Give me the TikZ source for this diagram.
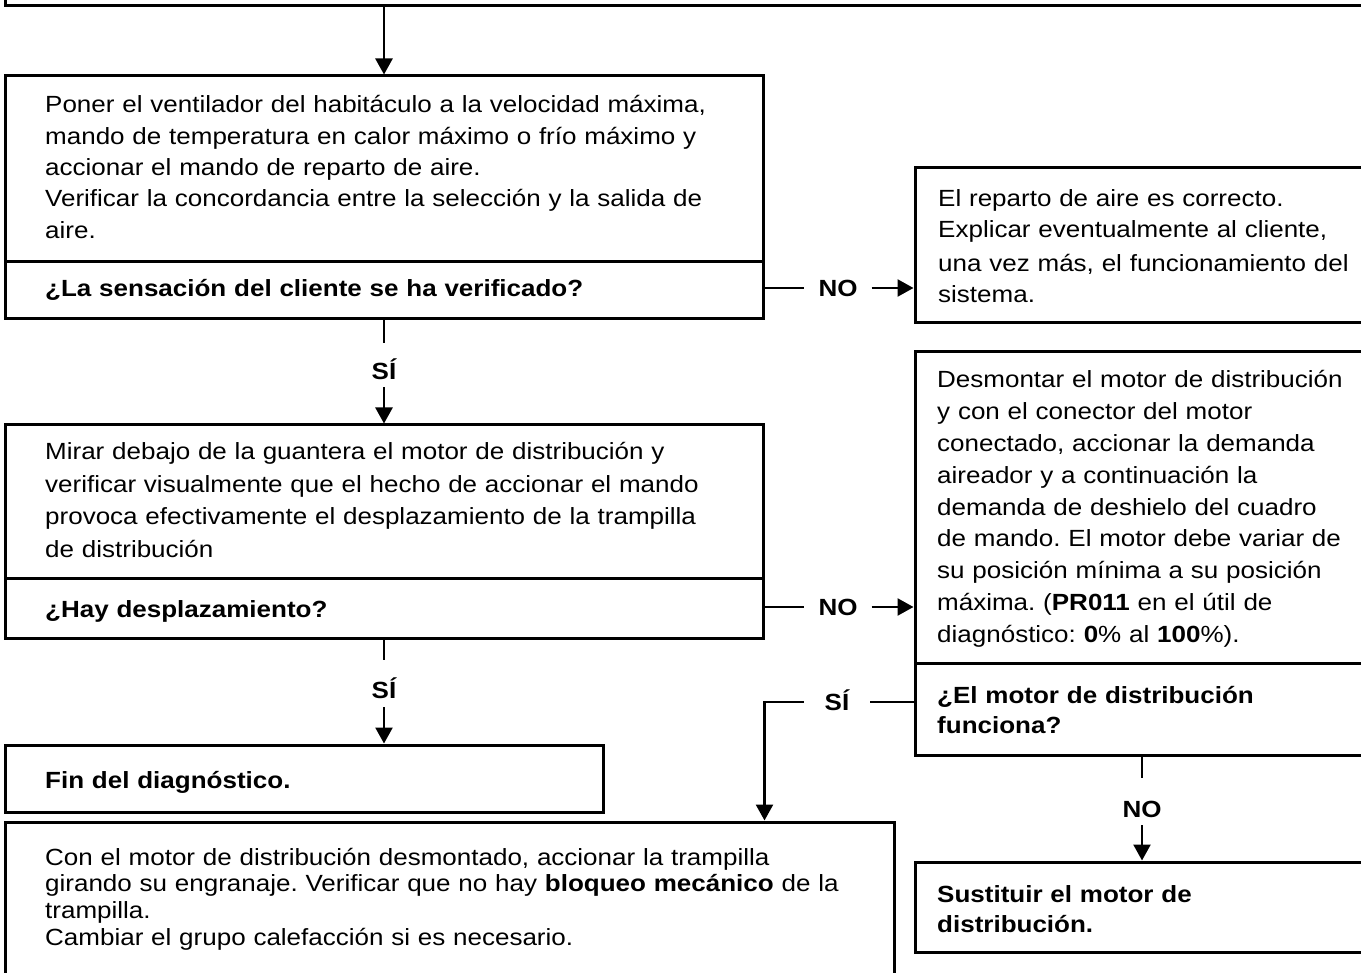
\documentclass[tikz,border=0pt]{standalone}
\usepackage{fontspec}
\setmainfont{Liberation Sans}[FakeStretch=1.111]
\usetikzlibrary{arrows.meta}
\setlength{\lineskiplimit}{-100pt}
\frenchspacing
\begin{document}
\begin{tikzpicture}[x=1pt,y=-1pt,
  box/.style={draw=black, line width=3pt, rectangle, inner sep=0pt, anchor=north west},
  lsp/.style={font=\fontsize{23.4pt}{#1}\selectfont\frenchspacing},
  txt/.style={inner sep=0pt, anchor=base west, align=left, text width=#1, lsp=31.3pt},
  lbl/.style={inner sep=0pt, anchor=base, font=\fontsize{23.4pt}{30pt}\selectfont\bfseries, text height=17pt, text depth=0pt},
  conn/.style={draw=black, line width=2.5pt},
  arr/.style={conn, -{Triangle[length=16pt,width=17pt]}}]
\useasboundingbox (0,0) rectangle (1361,973);
\fill[white] (0,0) rectangle (1361,973);
\clip (0,0) rectangle (1361,973);

% boxes (border centre lines at the measured positions)
\node[box, anchor=south west, minimum width=1400pt, minimum height=60pt] (top) at (3.5,7) {};
\node[box, minimum width=758pt, minimum height=186pt] (b1) at (3.5,74.5) {};
\node[box, minimum width=758pt, minimum height=57pt] (b1q) at (3.5,260.5) {};
\node[box, minimum width=454pt, minimum height=155pt] (b2) at (913.5,166.5) {};
\node[box, minimum width=454pt, minimum height=311pt] (b3) at (913.5,350.5) {};
\node[box, minimum width=454pt, minimum height=92pt] (b3q) at (913.5,661.5) {};
\node[box, minimum width=758pt, minimum height=153pt] (b4) at (3.5,423.5) {};
\node[box, minimum width=758pt, minimum height=60pt] (b4q) at (3.5,576.5) {};
\node[box, minimum width=598pt, minimum height=67pt] (b5) at (3.5,743.5) {};
\node[box, minimum width=889pt, minimum height=180pt] (b6) at (3.5,820.5) {};
\node[box, minimum width=454pt, minimum height=90pt] (b7) at (913.5,860.5) {};

% texts
\node[txt=700pt] (t1) at (45,113) {Poner el ventilador del habitáculo a la velocidad máxima,\\
mando de temperatura en calor máximo o frío máximo y\\
accionar el mando de reparto de aire.\\
Verificar la concordancia entre la selección y la salida de\\
aire.};
\node[txt=700pt] (q1) at (45,297) {\bfseries ¿La sensación del cliente se ha verificado?};
\node[txt=415pt, lsp=30.5pt] (t2) at (938,207) {El reparto de aire es correcto.\\
Explicar eventualmente al cliente,\\[4pt]
una vez más, el funcionamiento del\\
sistema.};
\node[txt=700pt, lsp=32.5pt] (t4) at (45,460) {Mirar debajo de la guantera el motor de distribución y\\
verificar visualmente que el hecho de accionar el mando\\
provoca efectivamente el desplazamiento de la trampilla\\
de distribución};
\node[txt=700pt] (q4) at (45,617) {\bfseries ¿Hay desplazamiento?};
\node[txt=415pt, lsp=31.8pt] (t3) at (937,388) {Desmontar el motor de distribución\\
y con el conector del motor\\
conectado, accionar la demanda\\
aireador y a continuación la\\
demanda de deshielo del cuadro\\
de mando. El motor debe variar de\\
su posición mínima a su posición\\
máxima. (\textbf{PR011} en el útil de\\
diagnóstico: \textbf{0}\% al \textbf{100}\%).};
\node[txt=415pt, lsp=30pt] (q3) at (937,703) {\bfseries ¿El motor de distribución\\
funciona?};
\node[txt=540pt] (q5) at (45,788) {\bfseries Fin del diagnóstico.};
\node[txt=840pt, lsp=26.7pt] (t6) at (45,865) {Con el motor de distribución desmontado, accionar la trampilla\\
girando su engranaje. Verificar que no hay \textbf{bloqueo mecánico} de la\\
trampilla.\\
Cambiar el grupo calefacción si es necesario.};
\node[txt=415pt, lsp=30.5pt] (q7) at (937,902) {\bfseries Sustituir el motor de\\
distribución.};

% labels
\node[lbl] (s1) at (384,380) {SÍ};
\node[lbl] (s2) at (384,698) {SÍ};
\node[lbl, inner xsep=14pt, anchor=center] (n1) at (838,288) {NO};
\node[lbl, inner xsep=14pt, anchor=center] (n2) at (838,607) {NO};
\node[lbl, inner xsep=21pt, anchor=center] (s3) at (837,702) {SÍ};
\node[lbl] (n3) at (1142,817) {NO};

% connectors
\draw[arr] (top.south -| b1.north) -- (b1.north);
\draw[conn, shorten >=20pt] (b1q.south) -- (s1.north);
\draw[arr, shorten <=7pt] (s1.south) -- (b4.north);
\draw[conn, shorten >=21pt] (b4q.south) -- (s2.north);
\draw[arr, shorten <=9pt] (s2.south) -- (s2.south |- b5.north);
\draw[conn] (b1q.east |- n1.west) -- (n1.west);
\draw[arr] (n1.east) -- (n1.east -| b2.west);
\draw[conn] (b4q.east |- n2.west) -- (n2.west);
\draw[arr] (n2.east) -- (n2.east -| b3.west);
\draw[conn] (b3q.west |- s3.east) -- (s3.east);
\draw[arr] (s3.west) -| (b6.north -| b1.east);
\draw[conn, shorten >=22pt] (b3q.south) -- (n3.north);
\draw[arr, shorten <=8pt] (n3.south) -- (b7.north);
\end{tikzpicture}
\end{document}
